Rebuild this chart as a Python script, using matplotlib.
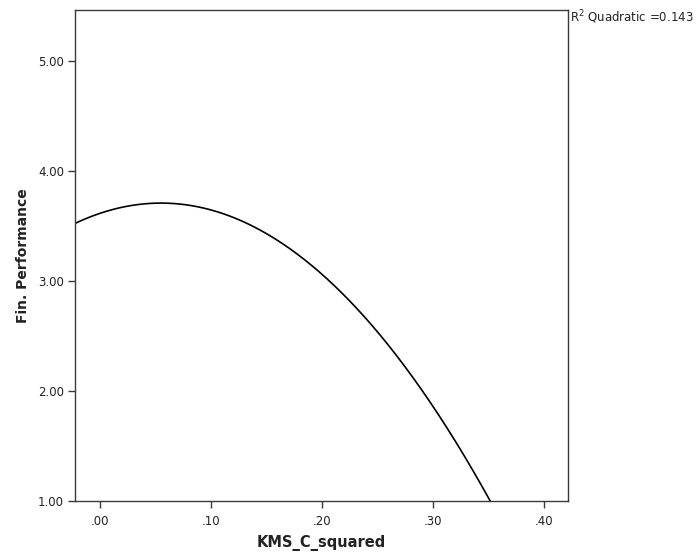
import numpy as np
import matplotlib
matplotlib.use("Agg")
import matplotlib.pyplot as plt

# -------- DATA --------
# quadratic fit: Fin.Performance = B0 + B1*x + B2*x^2
B0 = 3.612
B1 = 3.388
B2 = -30.8
R2_QUADRATIC = 0.143

X_TICKS = [0.00, 0.10, 0.20, 0.30, 0.40]
X_TICK_LABELS = [".00", ".10", ".20", ".30", ".40"]
Y_TICKS = [1.0, 2.0, 3.0, 4.0, 5.0]
Y_TICK_LABELS = ["1.00", "2.00", "3.00", "4.00", "5.00"]

X_RANGE = (-0.0225, 0.4216)
Y_RANGE = (1.0, 5.46)

X_LABEL = "KMS_C_squared"
Y_LABEL = "Fin. Performance"
# ----------------------

AXIS_COLOR = "#3a3a3a"
TEXT_COLOR = "#222222"


def main():
    fig = plt.figure(figsize=(6.99, 5.57), dpi=100)
    ax = fig.add_axes([0.1073, 0.1011, 0.7053, 0.8809])

    xs = np.linspace(X_RANGE[0], X_RANGE[1], 400)
    ys = B0 + B1 * xs + B2 * xs ** 2
    ax.plot(xs, ys, color="black", linewidth=1.2, solid_capstyle="round")

    ax.set_xlim(*X_RANGE)
    ax.set_ylim(*Y_RANGE)

    ax.set_xticks(X_TICKS)
    ax.set_xticklabels(X_TICK_LABELS)
    ax.set_yticks(Y_TICKS)
    ax.set_yticklabels(Y_TICK_LABELS)

    ax.tick_params(axis="both", direction="out", length=5, width=1,
                   color=AXIS_COLOR, labelsize=8.5, labelcolor=TEXT_COLOR, pad=3)
    ax.tick_params(axis="x", pad=5)

    for side in ["left", "bottom", "top", "right"]:
        ax.spines[side].set_color(AXIS_COLOR)
        ax.spines[side].set_linewidth(1.0)

    ax.set_xlabel(X_LABEL, fontsize=10.5, fontweight="bold", color=TEXT_COLOR,
                  labelpad=5)
    ax.set_ylabel(Y_LABEL, fontsize=10, fontweight="bold", color=TEXT_COLOR,
                  labelpad=6)

    fig.text(0.8155, 0.969, r"R$^2$ Quadratic =%.3f" % R2_QUADRATIC,
             fontsize=8.5, color=TEXT_COLOR, ha="left", va="center")

    fig.savefig("out.png", dpi=100)
    plt.close(fig)


if __name__ == "__main__":
    main()
